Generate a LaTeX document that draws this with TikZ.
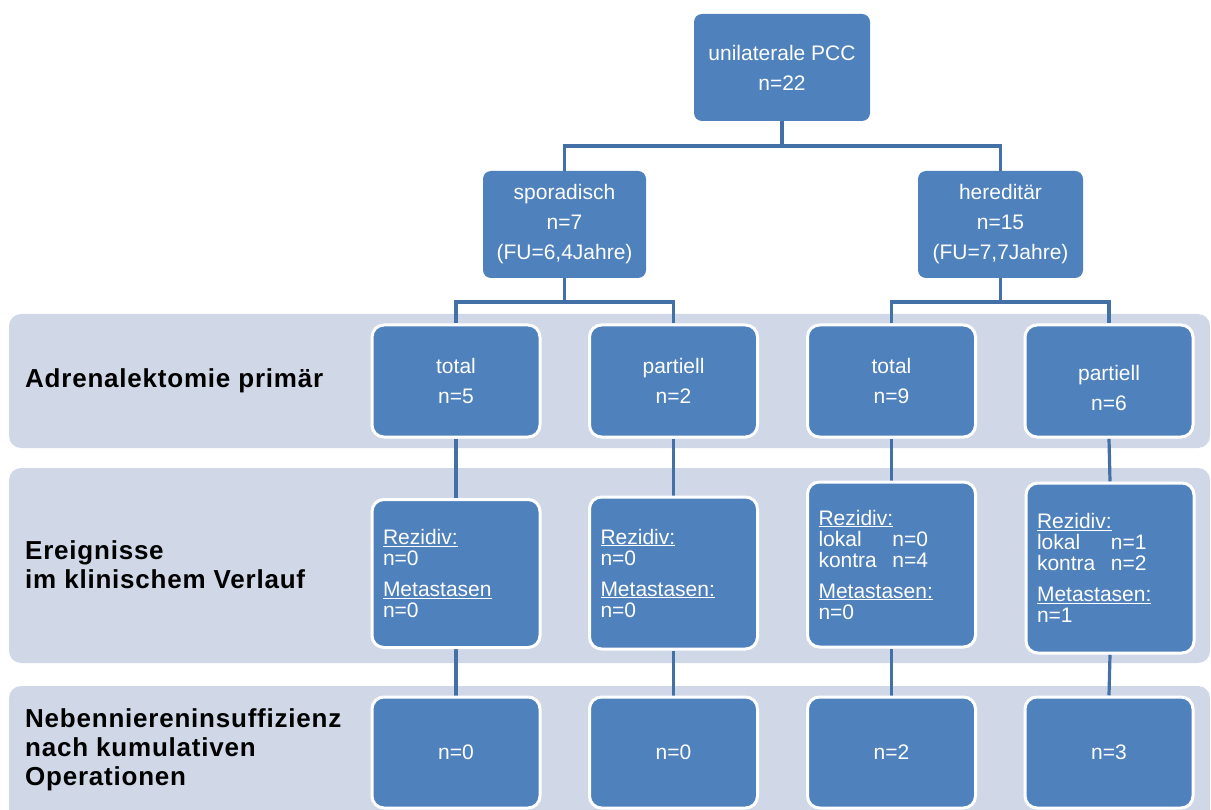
\documentclass[tikz,border=0pt]{standalone}
\usepackage{fontspec}
\setmainfont{Liberation Sans}
\newfontfamily\labelfont[LetterSpace=3]{Liberation Sans}
\definecolor{boxblue}{HTML}{4F81BD}
\definecolor{bandgray}{HTML}{D0D8E8}
\definecolor{linkblue}{HTML}{4470A8}
\pgfdeclarelayer{bandlayer}
\pgfdeclarelayer{linklayer}
\pgfsetlayers{bandlayer,linklayer,main}
\begin{document}
\begin{tikzpicture}[x=1pt,y=-1pt,
  band/.style={fill=bandgray, rounded corners=12pt},
  topbox/.style={fill=boxblue, rounded corners=8pt, text=white, align=center, inner sep=0pt,
    font=\fontsize{21}{30}\selectfont},
  rowbox/.style={fill=boxblue, draw=white, line width=3pt, rounded corners=12pt, text=white,
    inner sep=0pt, minimum width=168pt, align=center, font=\fontsize{21}{30}\selectfont},
  evbox/.style={rowbox, align=left, text width=146pt, inner xsep=11pt, inner ysep=0pt,
    font=\fontsize{21}{21}\selectfont},
  link/.style={draw=linkblue, line width=3.2pt},
  rowlabel/.style={anchor=west, align=left, inner sep=0pt, text=black,
    font=\labelfont\bfseries\fontsize{26}{29}\selectfont}]
\useasboundingbox (0,0) rectangle (1211,810);

\begin{pgfonlayer}{bandlayer}
  \fill[band] (9,314) rectangle (1210,448);
  \fill[band] (9,468) rectangle (1210,663);
  \fill[band] (9,686) rectangle (1210,840);
\end{pgfonlayer}

% top tree
\node[topbox, minimum width=176pt, minimum height=107pt] (top) at (782,67.5) {unilaterale PCC\\n=22};
\node[topbox, minimum width=163pt, minimum height=107pt] (spor) at (564.5,224.5) {sporadisch\\n=7\\(FU=6,4Jahre)};
\node[topbox, minimum width=165pt, minimum height=107pt] (hered) at (1000.5,224.5) {hereditär\\n=15\\(FU=7,7Jahre)};

% row 1
\node[rowbox, minimum height=112pt] (t1) at (456,381) {total\\n=5};
\node[rowbox, minimum height=112pt] (t2) at (673.5,381) {partiell\\n=2};
\node[rowbox, minimum height=112pt] (t3) at (891.5,381) {total\\n=9};
\node[rowbox, minimum height=112pt] (t4) at (1109,381) {\rule{0pt}{29pt}partiell\\n=6};

% row 2
\node[evbox, minimum height=148pt] (e1) at (456,573.5)
  {\underline{Rezidiv:}\\n=0\\[10pt]\underline{Metastasen}\\n=0};
\node[evbox, minimum height=152pt] (e2) at (673.5,573)
  {\underline{Rezidiv:}\\n=0\\[10pt]\underline{Metastasen:}\\n=0};
\node[evbox, minimum height=165pt] (e3) at (891.5,564.5)
  {\underline{Rezidiv:}\\\makebox[74pt][l]{lokal}n=0\\\makebox[74pt][l]{kontra}n=4\\[10pt]\underline{Metastasen:}\\n=0};
\node[evbox, minimum height=170pt] (e4) at (1110,568)
  {\underline{Rezidiv:}\\\makebox[74pt][l]{lokal}n=1\\\makebox[74pt][l]{kontra}n=2\\[10pt]\underline{Metastasen:}\\n=1};

% row 3
\node[rowbox, minimum height=111pt] (b1) at (456,752.5) {n=0};
\node[rowbox, minimum height=111pt] (b2) at (673.5,752.5) {n=0};
\node[rowbox, minimum height=111pt] (b3) at (891.5,752.5) {n=2};
\node[rowbox, minimum height=111pt] (b4) at (1109,752.5) {n=3};

% row labels
\node[rowlabel] (l1) at (25,381) {Adrenalektomie primär};
\node[rowlabel] (l2) at (25,565) {Ereignisse\\im klinischem Verlauf};
\node[rowlabel] (l3) at (25,750) {Nebenniereninsuffizienz\\nach kumulativen\\Operationen};

% connectors
\coordinate (jt) at (782,146);
\coordinate (js) at (564.5,302);
\coordinate (jh) at (1000.5,302);
\begin{pgfonlayer}{linklayer}
  \draw[link] (top.south) -- (jt);
  \draw[link] (spor.north) |- (jt) -| (hered.north);
  \draw[link] (spor.south) -- (js);
  \draw[link] (t1.north) |- (js) -| (t2.north);
  \draw[link] (hered.south) -- (jh);
  \draw[link] (t3.north) |- (jh) -| (t4.north);
  \draw[link] (t1.south) -- (e1.north);
  \draw[link] (t2.south) -- (e2.north);
  \draw[link] (t3.south) -- (e3.north);
  \draw[link] (t4.south) -- (e4.north);
  \draw[link] (e1.south) -- (b1.north);
  \draw[link] (e2.south) -- (b2.north);
  \draw[link] (e3.south) -- (b3.north);
  \draw[link] (e4.south) -- (b4.north);
\end{pgfonlayer}
\end{tikzpicture}
\end{document}
